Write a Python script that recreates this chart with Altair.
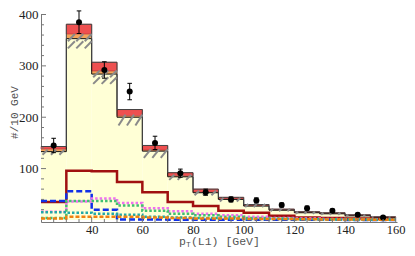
import altair as alt
import pandas as pd

# ---- data ----
edges = [20, 30, 40, 50, 60, 70, 80, 90, 100, 110, 120, 130, 140, 150, 160]
yellow_top = [133, 353, 284, 200, 134, 84, 53, 40, 27, 19, 14, 12, 8, 5]
orange_top = [138, 362, 290, 203, 136, 86, 54, 41, 28, 19.5, 14.5, 12.5, 8.5, 5.3]
total_top = [143, 381, 307, 215, 145, 92, 60, 44, 30, 21, 16, 14, 10, 6]
band_lo = [127, 334, 265, 184, 121, 78, 48, 36, 25, 17, 12, 10, 7, 4]
band_hi = [137, 362, 291, 205, 138, 88, 57, 43, 31, 22, 16, 14, 10, 7]
data_val = [145, 385, 292, 250, 150, 91, 54, 40, 38, 29, 23, 18, 10, 5]
data_err = [14, 22, 16, 16, 13, 8, 6, 5, 5, 4, 4, 3, 3, 2]

line_darkred = [35, 96, 95, 74, 54, 35, 27, 18, 14, 8, 5, 4, 3, 2]
line_blue = [37, 56, 20, 1, 1, 0.5, 0.5, 0.5, 0.3, 0.3, 0.2, 0.2, 0.1, 0.1]
line_pink = [16, 36, 42, 33, 23, 17, 12, 9, 6, 4, 3, 2, 1.5, 1]
line_green = [4, 37, 37, 28, 18, 12, 9, 6, 4, 3, 2, 1.5, 1, 1]
line_teal = [15, 14, 12, 10, 6, 5, 4, 3, 2, 2, 1.5, 1, 1, 0.5]
line_orange = [3, 6, 6, 6, 5, 4, 3, 3, 2, 2, 1.5, 1, 1, 0.5]

y_major = [0, 100, 200, 300, 400]
y_minor = [v for v in range(0, 401, 20) if v % 100]
x_major = [20, 40, 60, 80, 100, 120, 140, 160]
x_minor = [v for v in range(20, 161, 5) if v % 20]

# ---- layout ----
W, H = 356, 208
XD = [20, 160.5]
YD = [-4, 401]
xk = W / (XD[1] - XD[0])
yk = H / (YD[1] - YD[0])

xs = alt.Scale(domain=XD, nice=False, zero=False)
ys = alt.Scale(domain=YD, nice=False, zero=False)

n = len(edges) - 1
bins = pd.DataFrame({
    "lo": edges[:-1], "hi": edges[1:],
    "yt": yellow_top, "ot": orange_top, "tt": total_top,
    "c": [(a + b) / 2 for a, b in zip(edges[:-1], edges[1:])],
    "d": data_val, "e": data_err,
})
bins["dlo"] = bins["d"] - bins["e"]
bins["dhi"] = bins["d"] + bins["e"]
bins["cl"] = bins["c"] - 0.9
bins["cr"] = bins["c"] + 0.9
bins["zero"] = 0


def step_df(vals):
    return pd.DataFrame({"x": edges, "y": list(vals) + [vals[-1]]})


def step_line(vals, color, width, dash=None):
    kw = dict(interpolate="step-after", color=color, strokeWidth=width, clip=True)
    if dash:
        kw["strokeDash"] = dash
    return alt.Chart(step_df(vals)).mark_line(**kw).encode(
        x=alt.X("x:Q", scale=xs), y=alt.Y("y:Q", scale=ys))


base = alt.Chart(bins)
rect_y = base.mark_rect(color="#FFFFD6").encode(
    x=alt.X("lo:Q", scale=xs, axis=alt.Axis(values=x_major[1:], ticks=False, grid=False,
                                            title=None, labelFont="Liberation Serif",
                                            labelFontSize=12.5, labelColor="#222",
                                            labelPadding=1, domainColor="#777")),
    x2="hi:Q",
    y=alt.Y("zero:Q", scale=ys, axis=alt.Axis(values=y_major[1:], ticks=False, grid=False,
                                              title="#/10 GeV", titleFont="Liberation Mono",
                                              titleFontSize=11, titleFontWeight="normal",
                                              titleColor="#555", titleX=-27, titleY=H / 2 - 6,
                                              titleBaseline="middle", titleAngle=270,
                                              labelFont="Liberation Serif", labelFontSize=13,
                                              labelColor="#222", labelPadding=3,
                                              domainColor="#777")),
    y2="yt:Q")
rect_o = base.mark_rect(color="#F4A55A").encode(
    x=alt.X("lo:Q", scale=xs), x2="hi:Q", y=alt.Y("yt:Q", scale=ys), y2="ot:Q")
rect_r = base.mark_rect(color="#EE5050", stroke="#B03030", strokeWidth=0.6).encode(
    x=alt.X("lo:Q", scale=xs), x2="hi:Q", y=alt.Y("ot:Q", scale=ys), y2="tt:Q")

outline_y = step_line(yellow_top, "#111", 1)
outline_t = step_line(total_top, "#444", 1)

# hatch strokes of the uncertainty band
rows = []
for i in range(n):
    lo, hi = band_lo[i], band_hi[i]
    hpx = (hi - lo) * yk
    nr = max(1, round(hpx / 8))
    hr = (hi - lo) / nr
    dx = min(hr * yk, 7) / xk
    for r in range(nr):
        for j in range(3):
            x0 = edges[i] + 0.6 + j * (10 / 3)
            x1 = min(x0 + dx, edges[i + 1])
            rows.append({"x": x0, "x2": x1, "y": lo + r * hr, "y2": lo + (r + 1) * hr})
hatch = alt.Chart(pd.DataFrame(rows)).mark_rule(color="#8A8A8A", strokeWidth=2).encode(
    x=alt.X("x:Q", scale=xs), x2="x2:Q", y=alt.Y("y:Q", scale=ys), y2="y2:Q")

l_dr = step_line(line_darkred, "#A01010", 2.5)
l_bl = step_line(line_blue, "#1030E8", 2.5, [6, 3])
l_pk = step_line(line_pink, "#F070F0", 2.5, [2.5, 2])
l_gr = step_line(line_green, "#40C070", 2.5, [2.5, 2])
l_tl = step_line(line_teal, "#20A8A8", 2.5, [2.5, 2])
l_or = step_line(line_orange, "#F08010", 2.5, [4, 2])

err = base.mark_rule(color="black", strokeWidth=1).encode(
    x=alt.X("c:Q", scale=xs), y=alt.Y("dlo:Q", scale=ys), y2="dhi:Q")
cap_lo = base.mark_rule(color="black", strokeWidth=1).encode(
    x=alt.X("cl:Q", scale=xs), x2="cr:Q", y=alt.Y("dlo:Q", scale=ys))
cap_hi = base.mark_rule(color="black", strokeWidth=1).encode(
    x=alt.X("cl:Q", scale=xs), x2="cr:Q", y=alt.Y("dhi:Q", scale=ys))
pts = base.mark_circle(color="black", size=36, opacity=1).encode(
    x=alt.X("c:Q", scale=xs), y=alt.Y("d:Q", scale=ys))

# inward ticks
tick_c = "#777"
ytm = alt.Chart(pd.DataFrame({"v": y_major[1:]})).mark_rule(color=tick_c).encode(
    y=alt.Y("v:Q", scale=ys), x=alt.value(0), x2=alt.value(5))
ytn = alt.Chart(pd.DataFrame({"v": y_minor})).mark_rule(color=tick_c).encode(
    y=alt.Y("v:Q", scale=ys), x=alt.value(0), x2=alt.value(3))
xtm = alt.Chart(pd.DataFrame({"v": x_major[1:]})).mark_rule(color=tick_c).encode(
    x=alt.X("v:Q", scale=xs), y=alt.value(H), y2=alt.value(H - 5))
xtn = alt.Chart(pd.DataFrame({"v": x_minor})).mark_rule(color=tick_c).encode(
    x=alt.X("v:Q", scale=xs), y=alt.value(H), y2=alt.value(H - 3))

# x title with subscript
tx0 = W / 2 - 40
ty = H + 20
t1 = alt.Chart(pd.DataFrame({"t": ["p"]})).mark_text(
    font="Liberation Mono", fontSize=11.5, color="#555", align="left", baseline="middle").encode(
    text="t:N", x=alt.value(tx0), y=alt.value(ty))
t2 = alt.Chart(pd.DataFrame({"t": ["T"]})).mark_text(
    font="Liberation Mono", fontSize=8, color="#555", align="left", baseline="middle").encode(
    text="t:N", x=alt.value(tx0 + 6.9), y=alt.value(ty + 2.5))
t3 = alt.Chart(pd.DataFrame({"t": ["(L1)  [GeV]"]})).mark_text(
    font="Liberation Mono", fontSize=11.5, color="#555", align="left", baseline="middle").encode(
    text="t:N", x=alt.value(tx0 + 11.9), y=alt.value(ty))

chart = alt.layer(
    rect_y, rect_o, rect_r, outline_y, outline_t, hatch,
    l_dr, l_bl, l_pk, l_gr, l_tl, l_or,
    err, cap_lo, cap_hi, pts,
    ytm, ytn, xtm, xtn, t1, t2, t3,
).properties(
    width=W, height=H,
    autosize=alt.AutoSizeParams(type="none"),
    padding={"left": 33, "top": 6, "right": 10, "bottom": 26},
).configure_view(stroke=None)

chart.save("out.html", embed_options={"renderer": "svg", "actions": False})
